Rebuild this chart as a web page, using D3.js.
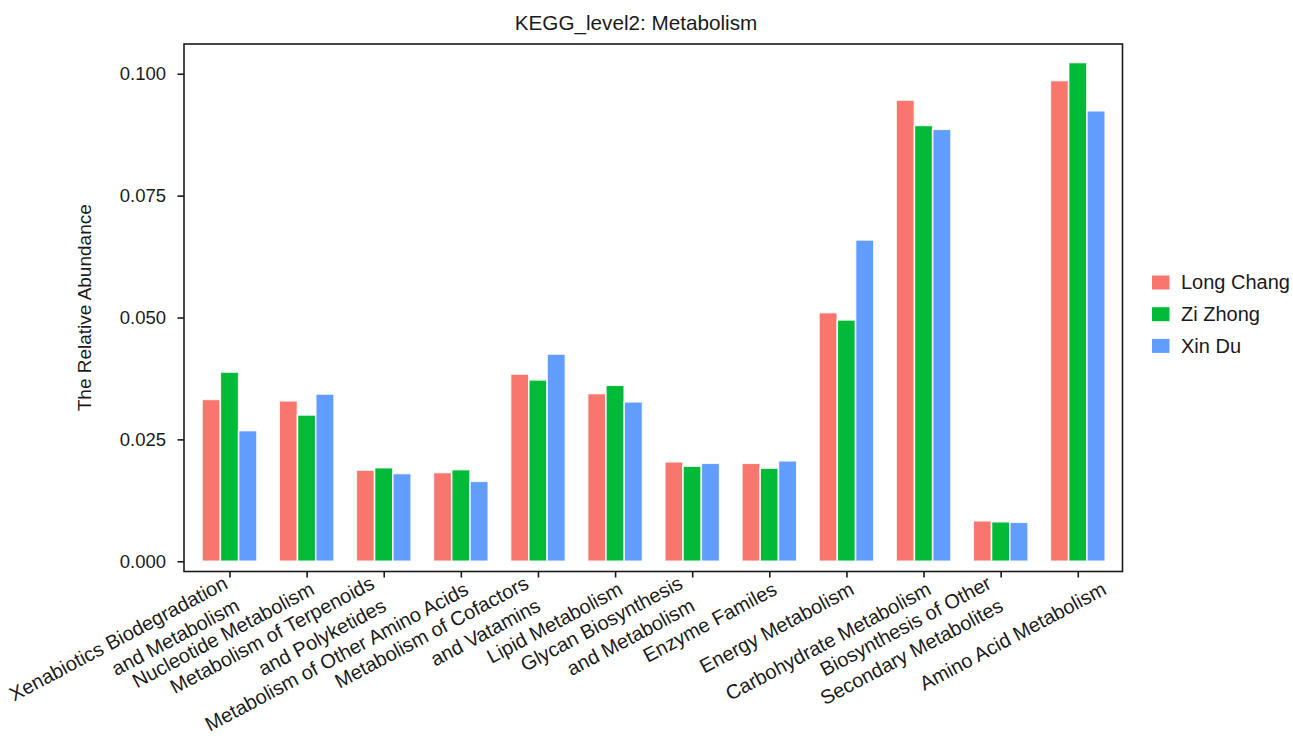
<!DOCTYPE html>
<html>
<head>
<meta charset="utf-8">
<script src="https://cdn.jsdelivr.net/npm/d3@7"></script>
<style>
  body { margin: 0; background: #fff; }
  text { font-family: Arial, "Liberation Sans", Helvetica, sans-serif; fill: #1a1a1a; }
</style>
</head>
<body>
<svg id="chart" width="1293" height="736"></svg>
<script>
// KEGG level-2 metabolism pathways (multi-line labels split on "\n")
const categories = [
  "Xenabiotics Biodegradation\nand Metabolism",
  "Nucleotide Metabolism",
  "Metabolism of Terpenoids\nand Polyketides",
  "Metabolism of Other Amino Acids",
  "Metabolism of Cofactors\nand Vatamins",
  "Lipid Metabolism",
  "Glycan Biosynthesis\nand Metabolism",
  "Enzyme Familes",
  "Energy Metabolism",
  "Carbohydrate Metabolism",
  "Biosynthesis of Other\nSecondary Metabolites",
  "Amino Acid Metabolism"
];

const seriesNames = ["Long Chang", "Zi Zhong", "Xin Du"];

const longChang = [0.0332, 0.0329, 0.0187, 0.0182, 0.0384, 0.0344, 0.0204, 0.0201, 0.0510, 0.0946, 0.0083, 0.0986];
const ziZhong   = [0.0388, 0.0300, 0.0192, 0.0188, 0.0372, 0.0361, 0.0195, 0.0191, 0.0495, 0.0894, 0.0081, 0.1023];
const xinDu     = [0.0268, 0.0343, 0.0180, 0.0164, 0.0425, 0.0327, 0.0201, 0.0206, 0.0659, 0.0886, 0.0080, 0.0924];

const yTicks = [0, 0.025, 0.05, 0.075, 0.1];

const seriesValues = [longChang, ziZhong, xinDu];
const colors = ["#F8766D", "#00BA38", "#619CFF"];

const svg = d3.select("#chart");

// Plot frame
const plot = { left: 184, right: 1122.5, top: 44, bottom: 571.5 };

const x = d3.scaleLinear()
  .domain([-0.59, categories.length - 1 + 0.58])
  .range([plot.left, plot.right]);

const y = d3.scaleLinear()
  .domain([-0.0021, 0.1061])
  .range([plot.bottom, plot.top]);

const barW = 0.237;            // width of one bar in category units
const ink = "#1a1a1a";

// Bars
const bars = [];
seriesValues.forEach((vals, s) => {
  vals.forEach((v, i) => bars.push({ s, i, v }));
});

svg.append("g")
  .selectAll("rect")
  .data(bars)
  .join("rect")
  .attr("x", d => x(d.i + (d.s - 1.5) * barW))
  .attr("width", d => x(barW) - x(0))
  .attr("y", d => y(d.v))
  .attr("height", d => y(0) - y(d.v))
  .attr("fill", d => colors[d.s])
  .attr("stroke", "#ffffff")
  .attr("stroke-opacity", 0.85)
  .attr("stroke-width", 1.6);

// Axes frame
svg.append("rect")
  .attr("x", plot.left).attr("y", plot.top)
  .attr("width", plot.right - plot.left)
  .attr("height", plot.bottom - plot.top)
  .attr("fill", "none")
  .attr("stroke", ink)
  .attr("stroke-width", 1.6);

// Y axis
const yAxis = d3.axisLeft(y)
  .tickValues(yTicks)
  .tickFormat(d3.format(".3f"))
  .tickSize(6.5)
  .tickPadding(11.5);

const gy = svg.append("g")
  .attr("transform", `translate(${plot.left},0)`)
  .call(yAxis);
gy.select(".domain").remove();
gy.selectAll(".tick line").attr("stroke", ink).attr("stroke-width", 1.6);
gy.selectAll(".tick text")
  .attr("font-size", 18.5)
  .attr("fill", ink)
  .style("font-family", "Arial, 'Liberation Sans', sans-serif");

// X axis ticks (labels drawn separately, rotated)
const xAxis = d3.axisBottom(x)
  .tickValues(d3.range(categories.length))
  .tickFormat("")
  .tickSize(6);

const gx = svg.append("g")
  .attr("transform", `translate(0,${plot.bottom})`)
  .call(xAxis);
gx.select(".domain").remove();
gx.selectAll(".tick line").attr("stroke", ink).attr("stroke-width", 1.6);

// Rotated category labels, right-aligned under their tick
const labelSize = 20;
const lineH = 25.5;
const angle = 28;
const sinA = Math.sin(angle * Math.PI / 180);
const cosA = Math.cos(angle * Math.PI / 180);
const labelNudge = { 0: 7.5, 11: 21 };

const labels = svg.append("g");
categories.forEach((c, i) => {
  const lines = c.split("\n");
  const n = lines.length;
  // baseline end point of the first line
  const bx = x(i) + 9 - 17 * (n - 1) + (labelNudge[i] || 0);
  const by = 593.5 - 6 * (n - 1);
  lines.forEach((t, k) => {
    labels.append("text")
      .attr("transform",
        `translate(${bx + k * lineH * sinA},${by + k * lineH * cosA}) rotate(${-angle})`)
      .attr("text-anchor", "end")
      .attr("font-size", labelSize)
      .text(t);
  });
});

// Y axis title
svg.append("text")
  .attr("transform", `translate(91,${(plot.top + plot.bottom) / 2}) rotate(-90)`)
  .attr("text-anchor", "middle")
  .attr("font-size", 19)
  .text("The Relative Abundance");

// Chart title
svg.append("text")
  .attr("x", 636)
  .attr("y", 30)
  .attr("text-anchor", "middle")
  .attr("font-size", 20.7)
  .text("KEGG_level2: Metabolism");

// Legend
const legend = svg.append("g");
seriesNames.forEach((name, s) => {
  const cy = 282.5 + s * 31.7;
  legend.append("rect")
    .attr("x", 1152).attr("y", cy - 7)
    .attr("width", 17.5).attr("height", 14)
    .attr("fill", colors[s]);
  legend.append("text")
    .attr("x", 1181)
    .attr("y", cy + 6.8)
    .attr("font-size", 20)
    .text(name);
});
</script>
</body>
</html>
